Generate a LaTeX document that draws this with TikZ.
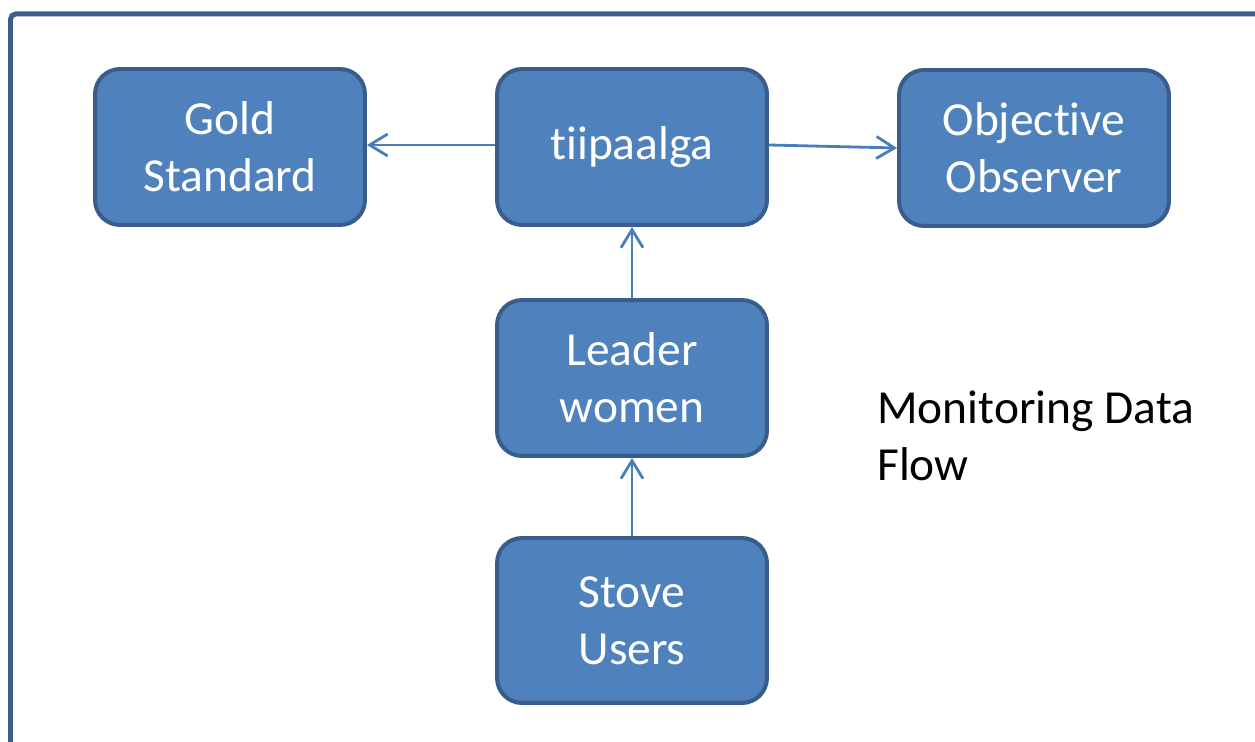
\documentclass[tikz,border=0pt]{standalone}
\usepackage{fontspec}
\setmainfont{Carlito}[Ligatures={NoCommon,NoRare,NoContextual}]
\usetikzlibrary{arrows.meta}
\definecolor{boxfill}{HTML}{4F81BD}
\definecolor{boxline}{HTML}{385D8A}
\definecolor{flowline}{HTML}{4A7EBB}
\definecolor{frameline}{HTML}{3B5E8C}
\tikzset{
  box/.style = {
    draw=boxline, fill=boxfill, text=white, line width=4pt*0.567,
    rounded corners=0.5cm, minimum width=5.4cm, minimum height=3.12cm,
    align=center, inner sep=0pt,
    font=\fontsize{27}{32.5}\selectfont
  },
  flow/.style = {
    draw=flowline, line width=1.6pt,
    -{Straight Barb[length=0.36cm,width=0.44cm,line width=1.6pt]}
  }
}

\begin{document}
\begin{tikzpicture}[x=0.02cm,y=-0.02cm]
  \useasboundingbox (0,0) rectangle (1255,742);
  % frame
  \draw[frameline,line width=0.1cm,rounded corners=3pt] (10.5,760) -- (10.5,14) -- (1270,14);
  % boxes
  \node[box] (tiipaalga) at (632,147) {tiipaalga};
  \node[box] (gold) at (230,147) {Gold\\Standard};
  \node[box] (observer) at (1034,148) {Objective\\Observer};
  \node[box] (leader) at (632,378) {Leader\\women};
  \node[box,minimum height=3.3cm] (stove) at (632,620.5) {Stove\\Users};
  % caption
  \node[anchor=west,inner sep=0pt,align=left,font=\fontsize{27}{32.5}\selectfont]
    (caption) at (877,436) {Monitoring Data\\Flow};
  % data flow
  \draw[flow] (tiipaalga.west |- 0,145) -- (gold.east |- 0,145);
  \draw[flow] (tiipaalga.east |- 0,145) -- (observer.west);
  \draw[flow] (leader.north) -- (tiipaalga.south);
  \draw[flow] (stove.north) -- (leader.south);
\end{tikzpicture}
\end{document}
